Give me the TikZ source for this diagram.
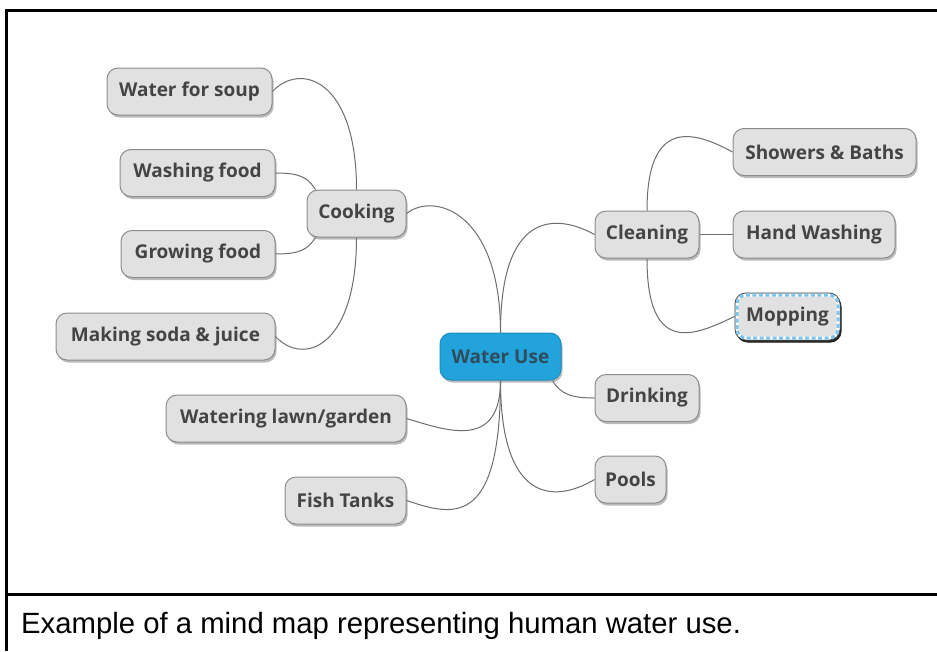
\documentclass[tikz,border=0pt]{standalone}
\usepackage{fontspec}
\setmainfont{Open Sans}
\newfontfamily\capfont{Liberation Sans}
\usetikzlibrary{shadows,calc}
\definecolor{nodefill}{HTML}{E1E1E1}
\definecolor{nodeline}{HTML}{8C8C8C}
\definecolor{nodetext}{HTML}{444444}
\definecolor{edgecol}{HTML}{6E6E6E}
\definecolor{wufill}{HTML}{23A3DB}
\definecolor{wuline}{HTML}{1E8CC0}
\definecolor{wutext}{HTML}{2F4B5C}
\definecolor{mopblue}{HTML}{7CC4EA}
\begin{document}
\begin{tikzpicture}[x=1pt,y=-1pt,
  topic/.style={draw=nodeline, line width=1pt, fill=nodefill, rounded corners=11pt,
    minimum height=47pt, inner xsep=6pt, inner ysep=0pt,
    font=\fontsize{19}{22}\selectfont\bfseries, text=nodetext,
    drop shadow={shadow xshift=1.5pt, shadow yshift=-2.5pt, fill=black!60, opacity=0.45}},
  central/.style={topic, fill=wufill, draw=wuline, text=wutext},
  link/.style={draw=edgecol, line width=1pt},
  frameline/.style={draw=black, line width=3pt}]
\fill[white] (0,0) rectangle (937,651);
\useasboundingbox (0,0) rectangle (937,651);
% frame
\draw[frameline] (6.5,651) -- (6.5,10.5) -- (937,10.5);
\draw[frameline] (5,594.5) -- (937,594.5);
\node[anchor=base west, inner sep=0pt, font=\capfont\fontsize{29.3}{33}\selectfont] (cap) at (21,633) {Example of a mind map representing human water use.};
% nodes
\node[central, minimum width=121pt] (wu) at (500.5,356.5) {Water Use};
\node[topic, minimum width=99pt] (cook) at (356.5,213.5) {Cooking};
\node[topic, minimum width=165pt] (wfs) at (189.5,91.5) {Water for soup};
\node[topic, minimum width=155pt] (wf) at (197.5,173) {Washing food};
\node[topic, minimum width=154pt] (gf) at (198,254) {Growing food};
\node[topic, minimum width=219pt] (msj) at (165.5,336.5) {Making soda \& juice};
\node[topic, minimum width=240pt] (wl) at (286,418.5) {Watering lawn/garden};
\node[topic, minimum width=121pt] (ft) at (345.5,500.5) {Fish Tanks};
\node[topic, minimum width=104pt] (cl) at (647,234.5) {Cleaning};
\node[topic, minimum width=183pt] (sh) at (824.5,152) {Showers \& Baths};
\node[topic, minimum width=162pt] (hw) at (814,234.5) {Hand Washing};
\node[topic, minimum width=105pt, draw=black!75, drop shadow={shadow xshift=1.5pt, shadow yshift=-2.5pt, fill=black, opacity=0.8}] (mop) at (787.5,316.5) {Mopping};
\node[topic, minimum width=104pt] (dr) at (647,398) {Drinking};
\node[topic, minimum width=71pt] (pools) at (630.5,479.5) {Pools};
% mopping selection border
\draw[white, line width=3pt, rounded corners=9pt] ($(mop.south west)+(2.5,-2.5)$) rectangle ($(mop.north east)+(-2.5,2.5)$);
\draw[mopblue, line width=3pt, dash pattern=on 4pt off 2.5pt, rounded corners=9pt] ($(mop.south west)+(2.5,-2.5)$) rectangle ($(mop.north east)+(-2.5,2.5)$);
% connectors
\draw[link] (cook.east) .. controls +(28,-22) and +(0,-120) .. (wu.north);
\draw[link] (wu.north) .. controls +(0,-120) and +(-40,-22) .. (cl.west);
\draw[link] (wfs.east) .. controls +(28,-30) and +(0,-110) .. (cook.north);
\draw[link] (msj.east) .. controls +(28,30) and +(0,110) .. (cook.south);
\draw[link] (wf.east) .. controls +(25,0) and +(-8,-12) .. ($(cook.north west)+(9,0)$);
\draw[link] (gf.east) .. controls +(25,0) and +(-8,12) .. ($(cook.south west)+(9,0)$);
\draw[link] (cl.north) .. controls +(0,-92) and +(-40,-22) .. (sh.west);
\draw[link] (cl.east) -- (hw.west);
\draw[link] (cl.south) .. controls +(0,100) and +(-38,18) .. (mop.west);
\draw[link] ($(wu.south east)+(-9,0)$) .. controls +(8,14) and +(-22,0) .. (dr.west);
\draw[link] (wu.south) .. controls +(0,120) and +(-42,25) .. (pools.west);
\draw[link] (wu.south) .. controls +(0,70) and +(40,12) .. (wl.east);
\draw[link] (wu.south) .. controls +(0,150) and +(45,15) .. (ft.east);
\end{tikzpicture}
\end{document}
